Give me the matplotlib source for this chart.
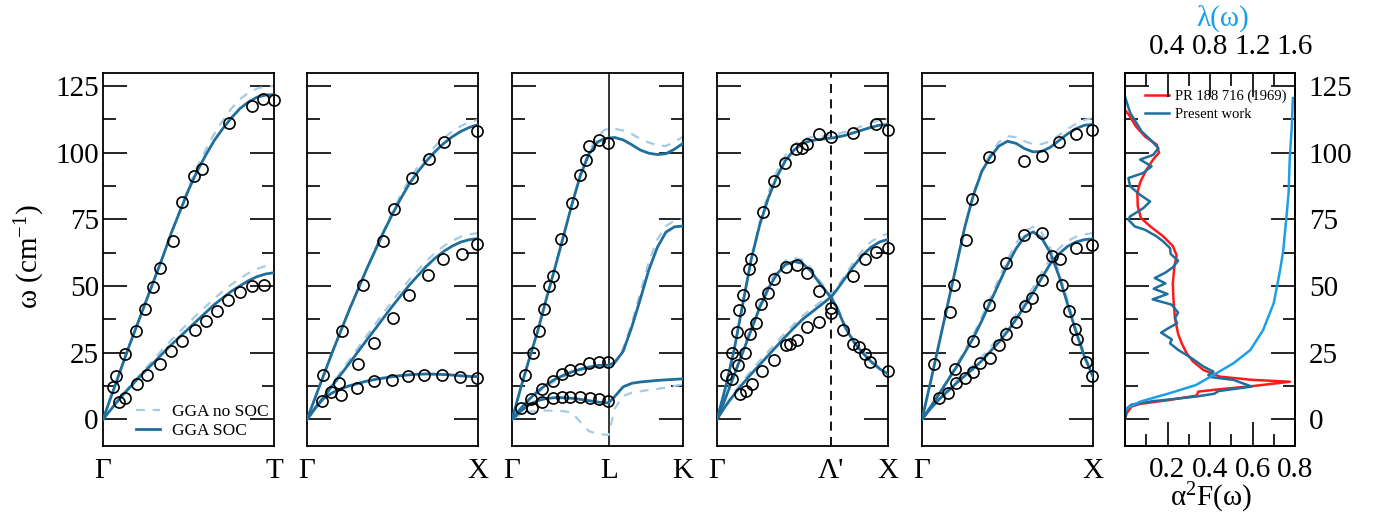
import matplotlib
matplotlib.use('Agg')
import matplotlib.pyplot as plt
from matplotlib.ticker import FixedLocator, MultipleLocator

plt.rcParams['font.family'] = ['Liberation Serif', 'DejaVu Serif']
plt.rcParams['mathtext.fontset'] = 'custom'
plt.rcParams['mathtext.rm'] = 'Liberation Serif'
plt.rcParams['mathtext.it'] = 'Liberation Serif:italic'

# ---------------- data ----------------
# Panel 1: Gamma - T
gt_x = [0, .05, .1, .15, .2, .25, .3, .35, .4, .45, .5, .55, .6, .65, .7, .75, .8, .85, .9, .95, 1.0]
gt_up_soc = [0, 9, 18, 27, 35.5, 44, 52.5, 61, 70, 78, 86, 93, 99, 104.5, 109, 113, 116.5, 119, 120.8, 121.6, 121.8]
gt_up_nosoc = [0, 9, 18, 27, 35.5, 44, 52.5, 61, 70, 78.5, 87, 94.5, 101, 107, 112, 116.5, 120, 122.5, 124, 124.8, 125]
gt_lo_soc = [0, 4, 8, 11.5, 15, 18.3, 21.5, 24.8, 28, 31, 34, 37, 40, 43, 45.5, 48, 50, 52, 53.5, 54.5, 55]
gt_lo_nosoc = [0, 4.1, 8.2, 12, 15.6, 19.2, 22.8, 26.4, 29.8, 33, 36.2, 39.3, 42.3, 45.2, 48, 50.5, 52.8, 54.8, 56.4, 57.5, 58]
gt_cx = [0.060, 0.076, 0.131, 0.191, 0.246, 0.294, 0.333, 0.411, 0.464, 0.534, 0.577, 0.739, 0.869, 0.938, 1.0,
         0.094, 0.131, 0.197, 0.255, 0.333, 0.396, 0.462, 0.538, 0.602, 0.669, 0.731, 0.801, 0.869, 0.942]
gt_cy = [12.1, 16.25, 24.6, 33.1, 41.25, 49.75, 56.6, 66.75, 81.5, 91.25, 93.75, 111, 117.5, 120.25, 119.6,
         6.5, 8.1, 13.1, 16.75, 20.9, 25.5, 29.25, 33.4, 36.9, 40.6, 44.75, 47.75, 50, 50.5]

# Panel 2: Gamma - X
gx_x = [0, .05, .1, .15, .2, .25, .3, .35, .4, .45, .5, .55, .6, .65, .7, .75, .8, .85, .9, .95, 1.0]
gx_up_soc = [0, 8.5, 17, 25.5, 33.5, 41.5, 49, 56.5, 63.5, 70.5, 77, 83, 88.5, 93, 97, 100.5, 103.5, 106, 108, 109.5, 110.5]
gx_up_nosoc = [0, 8.5, 17, 25.5, 33.5, 41.5, 49, 56.5, 64, 71, 78, 84.5, 90, 95, 99, 102.5, 105.5, 108, 110, 111.5, 112.3]
gx_mid_soc = [0, 4.3, 8.5, 12.8, 17, 21.2, 25.5, 29.8, 34, 38.3, 42.5, 46.5, 50.5, 54, 57.5, 60.5, 63, 65, 66.5, 67.4, 67.8]
gx_mid_nosoc = [0, 4.5, 9, 13.5, 18, 22.5, 27, 31.5, 35.8, 40.2, 44.5, 48.5, 52.5, 56, 59.5, 62.5, 65, 67, 68.5, 69.4, 69.8]
gx_lo_soc = [0, 4.5, 8, 10, 11.5, 12.6, 13.5, 14.3, 15, 15.5, 16, 16.4, 16.7, 16.9, 17, 16.9, 16.8, 16.6, 16.3, 16.1, 16]
gx_lo_nosoc = [0, 4.6, 8.1, 10.2, 11.7, 12.8, 13.7, 14.5, 15.2, 15.7, 16.2, 16.6, 16.9, 17.1, 17.2, 17.1, 17, 16.8, 16.5, 16.3, 16.2]
gx_cx = [0.093, 0.206, 0.326, 0.443, 0.507, 0.614, 0.711, 0.802, 0.996,
         0.142, 0.186, 0.297, 0.394, 0.501, 0.598, 0.705, 0.796, 0.905, 0.996,
         0.089, 0.2, 0.291, 0.394, 0.497, 0.588, 0.685, 0.792, 0.893, 0.996]
gx_cy = [16.5, 33.1, 50.25, 66.9, 79, 90.6, 97.5, 104.1, 108.1,
         10.25, 13.75, 20.6, 28.5, 38.1, 46.6, 54, 60, 61.9, 65.9,
         6.9, 9, 11.9, 14.4, 14.6, 16.25, 16.6, 16.5, 16, 15.6]

# Panel 3: Gamma - L - K
glk_L = 0.566
glk_x = [0, .05, .1, .15, .2, .25, .3, .35, .4, .45, .5, .54, .566, .6, .65, .7, .75, .8, .85, .9, .95, 1.0]
glk_up_soc = [0, 11.5, 22.5, 33, 45, 56.5, 68.5, 80.5, 91.5, 99.5, 104, 105.3, 105.5, 105.7, 104.8, 103, 101, 99.8, 99.3, 99.6, 101.3, 103.5]
glk_up_nosoc = [0, 11.5, 22.5, 33, 45, 56.5, 68.5, 80.5, 92, 100.5, 106, 108.5, 109, 109, 108.3, 107, 105.2, 103.8, 102.8, 102.5, 104, 106]
glk_mid_soc = [0, 4, 7.5, 10.5, 13, 15, 16.5, 17.8, 18.8, 19.6, 20.2, 20.3, 20.3, 21.2, 25.5, 34.5, 45, 56, 64.5, 70.2, 72.2, 72.5]
glk_mid_nosoc = [0, 3.5, 6.8, 9.8, 12.3, 14.3, 16, 17.3, 18.4, 19.3, 20, 20.3, 20.4, 21.6, 26.5, 36, 47.5, 59, 67.5, 72.5, 74.5, 75]
glk_lo_soc = [0, 3, 5.5, 7, 7.8, 8.1, 8.1, 7.9, 7.5, 7, 6.5, 6.2, 6.2, 8.5, 12.2, 13.5, 14, 14.3, 14.6, 14.8, 15, 15.2]
glk_lo_nosoc = [0, 1.8, 2.8, 3.2, 3.3, 3.2, 3.1, 2.5, -1, -4.4, -5.5, -5.7, -5.8, 4, 8.8, 10, 10.5, 11, 11.4, 11.9, 12.5, 13.1]
glk_cx = [0.074, 0.123, 0.159, 0.186, 0.217, 0.237, 0.286, 0.348, 0.397, 0.432, 0.448, 0.509, 0.564,
          0.114, 0.178, 0.237, 0.290, 0.342, 0.397, 0.452, 0.511, 0.564,
          0.055, 0.117, 0.178, 0.237, 0.290, 0.342, 0.397, 0.456, 0.511, 0.564]
glk_cy = [16.75, 24.75, 33.1, 41.5, 50, 53.6, 67.75, 81.25, 91.75, 97.25, 102.5, 104.6, 103.5,
          7.5, 11.25, 14.4, 16.9, 18.5, 19, 21, 21.5, 21.5,
          4.1, 4.4, 6.5, 8.1, 8.5, 8.5, 8.4, 8.1, 7.5, 6.9]

# Panel 4: Gamma - Lambda' - X
glx_P = 0.669
glx_x = [0, .05, .1, .15, .2, .25, .3, .35, .4, .45, .5, .55, .6, .669, .7, .75, .8, .85, .9, .95, 1.0]
glx_up_soc = [0, 12, 26, 43, 60, 73, 83, 91, 97, 101, 103.5, 104.5, 105, 105.5, 105.8, 106.5, 107.5, 108.5, 109.5, 110.3, 110.6]
glx_up_nosoc = [0, 12, 26, 43, 60, 74, 85, 93, 99, 103, 105, 105.8, 106.2, 106.5, 107, 107.8, 108.8, 110, 111.2, 112.2, 112.6]
glx_mid_soc = [0, 8, 16.5, 25, 33.5, 42, 49, 54.5, 58, 59.2, 58.5, 55.5, 51, 45.5, 42, 34.5, 29, 25, 21.7, 19, 17]
glx_mid_nosoc = [0, 8.3, 17, 26, 35, 43.5, 50.5, 56, 59.5, 60.6, 59.8, 56.8, 52, 46.3, 42.8, 35.2, 29.7, 25.7, 22.3, 19.5, 17.5]
glx_lo_soc = [0, 5, 9.3, 13.3, 17, 20.5, 24, 27.5, 31, 34.3, 37.5, 40, 42.5, 46, 48.5, 53, 57.5, 61.5, 64.5, 66.5, 67.5]
glx_lo_nosoc = [0, 5.3, 10, 14.3, 18.3, 22, 25.5, 29, 32.5, 35.7, 38.8, 41.3, 43.8, 47, 49.5, 54.2, 59, 63.3, 66.5, 68.7, 69.6]
glx_cx = [0.055, 0.090, 0.117, 0.129, 0.153, 0.188, 0.196, 0.270, 0.333, 0.399, 0.462, 0.495, 0.528, 0.595, 0.665, 0.798, 0.930, 1.0,
          0.090, 0.123, 0.162, 0.192, 0.227, 0.260, 0.299, 0.333, 0.403, 0.466, 0.528, 0.599, 0.667, 0.736, 0.798, 0.828, 0.863, 0.896, 1.0,
          0.137, 0.168, 0.202, 0.266, 0.333, 0.403, 0.427, 0.466, 0.528, 0.599, 0.667, 0.798, 0.867, 0.930, 1.0]
glx_cy = [16.5, 24.75, 32.75, 41, 46.5, 56.5, 60, 77.75, 89.4, 96, 101.25, 101.9, 103.25, 106.9, 106, 107.25, 110.6, 108.4,
          15, 20.25, 25, 31.9, 36.25, 43.1, 47.5, 52.75, 57.1, 57.75, 55, 48.1, 41.9, 33.4, 28.1, 27.25, 24.4, 21.5, 18.1,
          9.4, 10.6, 13.1, 18.1, 22.25, 27.75, 28.1, 29.75, 34.75, 36.6, 39.75, 53.75, 60.25, 62.75, 64.4]

# Panel 5: Gamma - X (second direction)
g2_x = [0, .05, .1, .15, .2, .25, .3, .35, .4, .45, .5, .55, .6, .65, .7, .75, .8, .85, .9, .95, 1.0]
g2_up_soc = [0, 14, 28.5, 43, 57.5, 72, 84, 93, 98.5, 102.5, 104.3, 103.5, 101.5, 100.3, 100.5, 102, 104.5, 107, 109, 110.3, 110.6]
g2_up_nosoc = [0, 14, 28.5, 43, 57.5, 72, 84.5, 93.5, 99.5, 104, 106.2, 105.8, 104.3, 103.2, 103.2, 104.3, 106.5, 108.8, 110.8, 112.3, 113]
g2_mid_soc = [0, 4.7, 9.5, 14.5, 19.5, 25, 30.5, 37, 44, 51, 58, 64, 68.5, 70.3, 68, 62.5, 54, 43.5, 33, 23.5, 16]
g2_mid_nosoc = [0, 4.8, 9.8, 15, 20.2, 26, 31.8, 38.5, 45.5, 52.8, 60, 66, 70.5, 72.2, 70, 64.3, 55.5, 44.8, 34, 24.3, 16.5]
g2_lo_soc = [0, 4, 7.5, 10.5, 13.5, 16.3, 19, 22, 25.5, 29, 33, 37.5, 42.5, 47.5, 53, 58.3, 62, 64.8, 66.5, 67.4, 67.7]
g2_lo_nosoc = [0, 4.2, 8, 11.2, 14.4, 17.4, 20.3, 23.5, 27, 30.8, 35, 39.5, 44.5, 49.5, 55, 60.2, 64, 66.8, 68.5, 69.4, 69.8]
g2_cx = [0.068, 0.162, 0.186, 0.260, 0.293, 0.391, 0.596, 0.699, 0.801, 0.898, 0.996,
         0.195, 0.299, 0.391, 0.494, 0.596, 0.703, 0.762, 0.816, 0.859, 0.893, 0.904, 0.957, 0.996,
         0.098, 0.150, 0.201, 0.254, 0.299, 0.342, 0.396, 0.449, 0.494, 0.547, 0.600, 0.645, 0.699, 0.807, 0.898, 0.996]
g2_cy = [20.6, 40.25, 50.25, 67.1, 82.75, 98.5, 96.9, 98.75, 104, 106.9, 108.4,
         18.75, 29.4, 42.75, 58.5, 69, 69.75, 61.25, 50.25, 40.6, 33.75, 30, 21.5, 16.25,
         8.1, 10, 13.5, 15.6, 17.75, 21, 23.1, 27.75, 31.9, 36.5, 42.5, 45.6, 52.25, 60, 64.4, 65.4]

# Panel 6: alpha^2F(omega) and lambda(omega)
pr_w = [0, 2.3, 4.8, 5.8, 7.3, 8.9, 10.4, 11.3, 12.5, 14.1, 14.8, 16, 18.5, 21.7, 24.8, 28.5, 32, 38, 45, 51, 57, 61.5,
        65, 68.6, 72.3, 75.5, 80, 85, 89, 93.5, 97.5, 100, 103, 106, 110, 114, 116]
pr_a2f = [0, 0.008, 0.031, 0.071, 0.212, 0.337, 0.345, 0.447, 0.604, 0.776, 0.6, 0.447, 0.369, 0.32, 0.29, 0.267, 0.25,
          0.235, 0.228, 0.225, 0.232, 0.243, 0.225, 0.18, 0.12, 0.075, 0.06, 0.058, 0.072, 0.1, 0.133, 0.16, 0.15, 0.095,
          0.05, 0.02, 0]
pw_w = [0, 4, 5.5, 6.8, 7.8, 8.6, 9.6, 10.6, 12.3, 14.8, 15.8, 16.6, 17.9, 19.8, 22.9, 26, 28.5, 30, 32.5, 34, 36, 38,
        40, 43, 45, 47, 49, 51, 53, 55, 57, 59.5, 62, 64.2, 66.7, 68.6, 71.1, 72.3, 74.8, 76.1, 79.2, 81.7, 84.2, 87.4,
        90.5, 92.4, 94.9, 97.4, 99.2, 101.7, 105, 108, 110, 115, 121]
pw_a2f = [0, 0.008, 0.03, 0.13, 0.25, 0.34, 0.42, 0.44, 0.596, 0.51, 0.408, 0.392, 0.416, 0.369, 0.314, 0.251, 0.212,
          0.22, 0.17, 0.2, 0.245, 0.235, 0.25, 0.22, 0.13, 0.2, 0.135, 0.19, 0.14, 0.19, 0.225, 0.25, 0.215, 0.212, 0.18,
          0.149, 0.094, 0.047, 0.016, 0.024, 0.086, 0.118, 0.071, 0.024, 0.016, 0.086, 0.125, 0.071, 0.133, 0.157, 0.118,
          0.078, 0.063, 0.024, 0]
lam_w = [3, 4.1, 6.6, 9.8, 12.9, 16.6, 21, 26, 33.5, 43.6, 56, 63.6, 76, 85, 97.4, 110, 120.5]
lam = [0, 0.016, 0.14, 0.42, 0.67, 0.83, 1.02, 1.18, 1.30, 1.40, 1.46, 1.49, 1.52, 1.54, 1.55, 1.57, 1.58]

# ---------------- style ----------------
SOC = '#1f6e9c'
NOSOC = '#a6cbe4'
LAM = '#1c9fe6'
RED = '#ff1a1a'
FS = 21

W, H = 1376, 529
fig = plt.figure(figsize=(W / 100, H / 100), dpi=100)
TOP, BOT = 72.7, 446


def px_axes(left, right):
    return fig.add_axes([left / W, 1 - BOT / H, (right - left) / W, (BOT - TOP) / H])


def style_band(ax, ticks, labels, ylabels=False):
    ax.set_xlim(0, 1)
    ax.set_ylim(-10, 130)
    ax.yaxis.set_major_locator(MultipleLocator(25))
    ax.yaxis.set_minor_locator(MultipleLocator(12.5))
    ax.tick_params(axis='y', which='both', direction='in', left=True, right=True,
                   labelleft=ylabels, labelsize=FS, pad=3)
    ax.tick_params(axis='y', which='major', length=17, width=1.2)
    ax.tick_params(axis='y', which='minor', length=9, width=1.2)
    ax.set_xticks(ticks)
    ax.set_xticklabels(labels)
    ax.tick_params(axis='x', length=0, pad=9, labelsize=FS)
    for s in ax.spines.values():
        s.set_linewidth(1.3)


def draw(ax, x, soc_list, nosoc_list, cx, cy):
    for ys in nosoc_list:
        ax.plot(x, ys, color=NOSOC, lw=1.6, ls=(0, (4, 3.5)), zorder=2)
    for ys in soc_list:
        ax.plot(x, ys, color=SOC, lw=2.0, zorder=3)
    ax.plot(cx, cy, 'o', mfc='none', mec='black', ms=8, mew=1.2, clip_on=False, zorder=5)


lefts = [103, 307, 512, 717, 922]
axs = [px_axes(l, l + 171) for l in lefts]

ax = axs[0]
draw(ax, gt_x, [gt_up_soc, gt_lo_soc], [gt_up_nosoc, gt_lo_nosoc], gt_cx, gt_cy)
style_band(ax, [0, 1], ['Γ', 'T'], ylabels=True)
h1, = ax.plot([], [], color=NOSOC, lw=1.6, ls=(0, (4, 3.5)), label='GGA no SOC')
h2, = ax.plot([], [], color=SOC, lw=2.0, label='GGA SOC')
ax.legend(handles=[h1, h2], loc='lower right', bbox_to_anchor=(0.99, 0.01), frameon=False,
          fontsize=12.5, handlelength=1.4, handletextpad=0.7, labelspacing=0.15, borderpad=0.2,
          borderaxespad=0)

ax = axs[1]
draw(ax, gx_x, [gx_up_soc, gx_mid_soc, gx_lo_soc], [gx_up_nosoc, gx_mid_nosoc, gx_lo_nosoc], gx_cx, gx_cy)
style_band(ax, [0, 1], ['Γ', 'X'])

ax = axs[2]
ax.axvline(glk_L, color='black', lw=1.1, zorder=1)
draw(ax, glk_x, [glk_up_soc, glk_mid_soc, glk_lo_soc], [glk_up_nosoc, glk_mid_nosoc, glk_lo_nosoc], glk_cx, glk_cy)
style_band(ax, [0, glk_L, 1], ['Γ', 'L', 'K'])

ax = axs[3]
ax.axvline(glx_P, color='black', lw=1.3, ls=(0, (5, 3.5)), zorder=1)
draw(ax, glx_x, [glx_up_soc, glx_mid_soc, glx_lo_soc], [glx_up_nosoc, glx_mid_nosoc, glx_lo_nosoc], glx_cx, glx_cy)
style_band(ax, [0, glx_P, 1], ['Γ', "Λ'", 'X'])

ax = axs[4]
draw(ax, g2_x, [g2_up_soc, g2_mid_soc, g2_lo_soc], [g2_up_nosoc, g2_mid_nosoc, g2_lo_nosoc], g2_cx, g2_cy)
style_band(ax, [0, 1], ['Γ', 'X'])

# Panel 6
ax6 = px_axes(1125, 1295)
ax6.plot(pr_a2f, pr_w, color=RED, lw=1.8, label='PR 188 716 (1969)', zorder=3)
ax6.plot(pw_a2f, pw_w, color=SOC, lw=1.8, label='Present work', zorder=4)
ax6.set_xlim(0, 0.8)
ax6.set_ylim(-10, 130)
ax6.xaxis.set_major_locator(FixedLocator([0.2, 0.4, 0.6, 0.8]))
ax6.xaxis.set_minor_locator(FixedLocator([0.1, 0.3, 0.5, 0.7]))
ax6.tick_params(axis='x', which='both', direction='in', bottom=True, top=False, labelsize=FS, pad=8)
ax6.tick_params(axis='x', which='major', length=17, width=1.2)
ax6.tick_params(axis='x', which='minor', length=9, width=1.2)
ax6.yaxis.set_major_locator(MultipleLocator(25))
ax6.yaxis.set_minor_locator(MultipleLocator(12.5))
ax6.tick_params(axis='y', which='both', direction='in', left=True, right=True,
                labelleft=False, labelright=True, labelsize=FS, pad=10)
ax6.tick_params(axis='y', which='major', length=17, width=1.2)
ax6.tick_params(axis='y', which='minor', length=9, width=1.2)
for s in ax6.spines.values():
    s.set_linewidth(1.3)
ax6.legend(loc='upper left', bbox_to_anchor=(0.12, 0.955), frameon=False, fontsize=10.5,
           handlelength=1.6, handletextpad=0.4, labelspacing=0.35, borderpad=0, borderaxespad=0)

axt = ax6.twiny()
axt.plot(lam, lam_w, color=LAM, lw=1.8)
axt.set_xlim(0, 1.6)
axt.set_ylim(-10, 130)
axt.xaxis.set_major_locator(FixedLocator([0.4, 0.8, 1.2, 1.6]))
axt.xaxis.set_minor_locator(FixedLocator([0.2, 0.6, 1.0, 1.4]))
axt.tick_params(axis='x', which='both', direction='in', top=True, bottom=False, labelsize=FS, pad=9)
axt.tick_params(axis='x', which='major', length=17, width=1.2)
axt.tick_params(axis='x', which='minor', length=9, width=1.2)
for s in axt.spines.values():
    s.set_linewidth(1.3)

fig.text(30 / W, 1 - 257 / H, r'ω (cm$^{-1}$)', rotation=90, ha='center', va='center', fontsize=FS)
fig.text(1223 / W, 1 - 18 / H, 'λ(ω)', color=LAM, ha='center', va='center', fontsize=FS)
fig.text(1211 / W, 1 - 498 / H, r'α$^{2}$F(ω)', ha='center', va='center', fontsize=FS)

fig.savefig('out.png', dpi=100)
